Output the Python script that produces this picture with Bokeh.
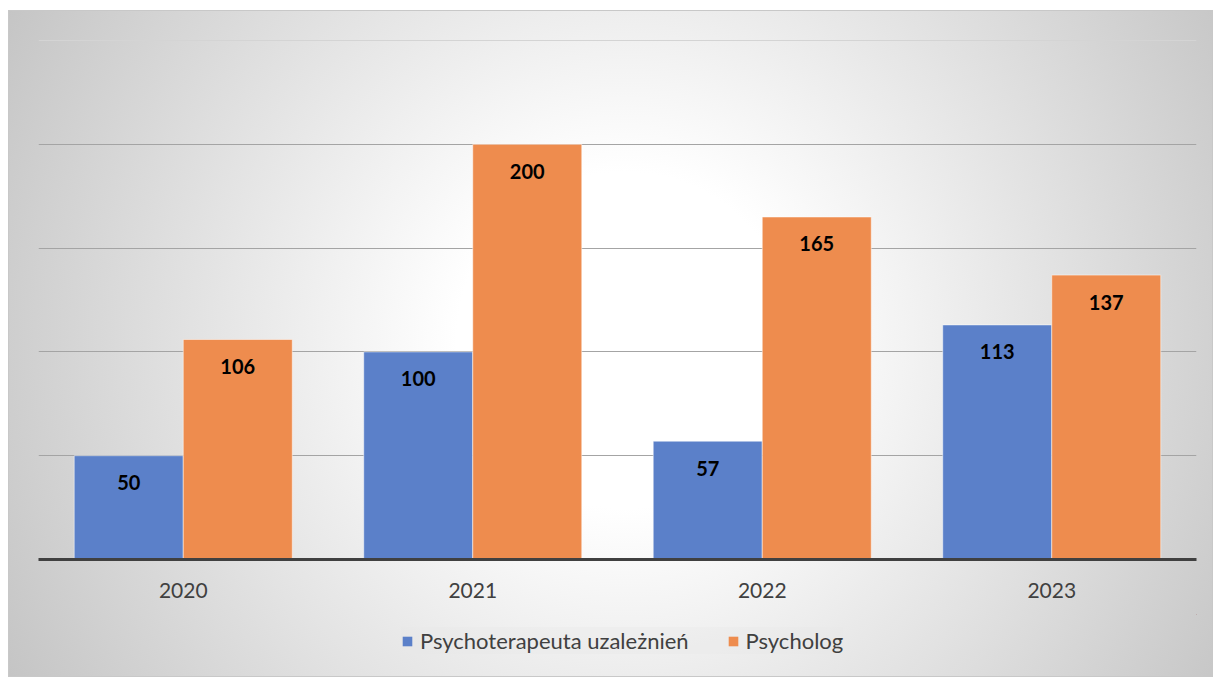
from bokeh.plotting import figure
from bokeh.layouts import column
from bokeh.models import (ColumnDataSource, FactorRange, Range1d, Legend, LegendItem,
                          Grid, FixedTicker)
from bokeh.transform import dodge
from bokeh.core.properties import value
from bokeh.embed import file_html
from bokeh.resources import INLINE

years = ["2020", "2021", "2022", "2023"]
series_names = ["Psychoterapeuta uzależnień", "Psycholog"]
terapeuta = [50, 100, 57, 113]
psycholog = [106, 200, 165, 137]
colors = ["#5B80C9", "#EE8C4E"]

src = ColumnDataSource(dict(
    year=years,
    t=terapeuta,
    p=psycholog,
    t_lbl=[str(v) for v in terapeuta],
    p_lbl=[str(v) for v in psycholog],
))

p = figure(
    frame_width=1158, frame_height=531,
    x_range=FactorRange(factors=years, range_padding=0),
    y_range=Range1d(0, 255.8),
    output_backend="svg", toolbar_location=None,
    min_border_left=30, min_border_right=17, min_border_top=18, min_border_bottom=55,
    background_fill_color=None, border_fill_color=None,
    outline_line_color=None,
)

bw = 0.3766
r1 = p.vbar(x=dodge("year", -bw / 2, range=p.x_range), top="t", width=bw, source=src,
            fill_color=colors[0], line_color="white", line_alpha=0.5, line_width=1)
r2 = p.vbar(x=dodge("year", bw / 2, range=p.x_range), top="p", width=bw, source=src,
            fill_color=colors[1], line_color="white", line_alpha=0.5, line_width=1)

for col, lbl, off in (("t", "t_lbl", -bw / 2), ("p", "p_lbl", bw / 2)):
    p.text(x=dodge("year", off, range=p.x_range), y=col, text=lbl, source=src,
           text_align="center", text_baseline="middle", y_offset=27,
           text_font=value("Lato"), text_font_style="bold", text_font_size="20px",
           text_color="black")

p.yaxis.visible = False
p.ygrid.grid_line_color = "#a4a4a4"
p.ygrid.grid_line_width = 1
p.ygrid.ticker = FixedTicker(ticks=[0, 50, 100, 150, 200])
p.xgrid.visible = False
top_grid = Grid(dimension=1, ticker=FixedTicker(ticks=[250]),
                grid_line_color="#d4d4d4", grid_line_width=1)
p.add_layout(top_grid)

ax = p.xaxis[0]
ax.axis_line_color = "#404040"
ax.axis_line_width = 3
ax.major_tick_line_color = None
ax.minor_tick_line_color = None
ax.major_tick_out = 0
ax.major_label_standoff = 23
ax.major_label_text_font = "Lato"
ax.major_label_text_font_size = "21px"
ax.major_label_text_color = "#404040"

# legend strip below the chart; its swatch renderers have zero height and lie off-range
lg = figure(
    width=1205, height=63,
    x_range=Range1d(-1001, -1000), y_range=Range1d(-1001, -1000),
    output_backend="svg", toolbar_location=None,
    x_axis_location=None, y_axis_location=None,
    min_border_left=0, min_border_right=0, min_border_top=0, min_border_bottom=0,
    background_fill_color=None, border_fill_color=None, outline_line_color=None,
)
lg.xgrid.visible = False
lg.ygrid.visible = False
s1 = lg.vbar(x="t", top=0, bottom=0, width=0.1, source=src, fill_color=colors[0], line_color=None)
s2 = lg.vbar(x="p", top=0, bottom=0, width=0.1, source=src, fill_color=colors[1], line_color=None)

legend = Legend(
    items=[LegendItem(label=series_names[0], renderers=[s1]),
           LegendItem(label=series_names[1], renderers=[s2])],
    orientation="horizontal", location=(363, 23),
    background_fill_color="#e8e8e8", background_fill_alpha=0.35, border_line_color=None,
    padding=10, margin=0, spacing=38,
    glyph_width=12, glyph_height=12, label_standoff=7,
    label_text_font="Lato", label_text_font_size="22px", label_text_color="#404040",
)
lg.add_layout(legend, "center")

layout = column(
    p, lg, spacing=0,
    styles={
        "margin-top": "10px",
        "margin-left": "8px",
        "background": "radial-gradient(circle 700px at 617px 330px, #ffffff 168px, #c5c5c5 700px)",
        "box-shadow": "inset 0 0 0 1px #c8c8c8",
    },
)

open("out.html", "w").write(file_html(layout, INLINE))
